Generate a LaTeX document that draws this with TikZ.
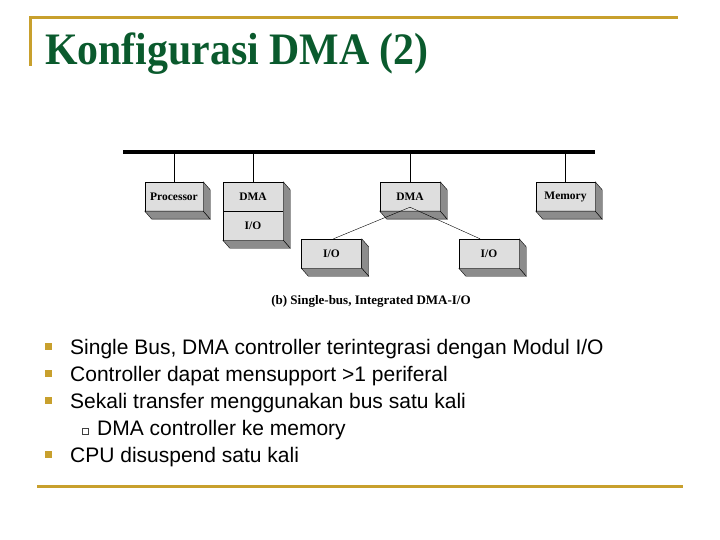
\documentclass[tikz,border=0pt]{standalone}
\usepackage{fontspec}
\setmainfont{Liberation Serif}
\newfontfamily\arialfont{Liberation Sans}
\definecolor{slidegold}{RGB}{200,160,45}
\definecolor{titlegreen}{RGB}{10,90,45}
\definecolor{boxgray}{RGB}{222,222,222}
\definecolor{sidegray}{RGB}{140,140,140}
\tikzset{
  modbox/.style={draw, fill=boxgray, minimum width=60, minimum height=29, inner sep=0pt,
    font=\bfseries\fontsize{11.5}{11.5}\selectfont},
  bullettext/.style={anchor=base west, inner sep=0pt, font=\arialfont\fontsize{21}{25}\selectfont}
}
% sisi samping dan bawah kotak 3D
\newcommand{\extrude}[2]{%
  \filldraw[fill=sidegray] (#1.north east) -- ++(7,8) -- ([shift={(7,8)}]#2.south east) -- (#2.south east) -- cycle;
  \filldraw[fill=sidegray] (#2.south west) -- ++(7,8) -- ([shift={(7,8)}]#2.south east) -- (#2.south east) -- cycle;
}
\begin{document}
\begin{tikzpicture}[x=1pt, y=-1pt]
  \useasboundingbox (0,0) rectangle (720,540);

  % garis hiasan slide
  \draw[slidegold, line width=3pt] (30,66) -- (30,18) -- (678,18);
  \draw[slidegold, line width=3pt] (37,486) -- (683,486);

  % judul
  \node[anchor=base west, inner sep=0pt, text=titlegreen, xscale=0.93,
        font=\bfseries\fontsize{45}{45}\selectfont] (title) at (45,65) {Konfigurasi DMA (2)};

  % bus tunggal
  \coordinate (busL) at (123,152);
  \coordinate (busR) at (595,152);
  \draw[line width=3.8pt] (busL) -- (busR);

  % modul-modul
  \node[modbox, minimum width=58] (proc) at (174,196.5) {Processor};
  \node[modbox] (dmaA) at (253,196.5) {DMA};
  \node[modbox] (ioA) at (253,225.5) {I/O};
  \node[modbox] (dmaB) at (410,196.5) {DMA};
  \node[modbox, minimum width=59] (mem) at (565.5,196.5) {Memory};
  \node[modbox] (ioL) at (331.5,253.5) {I/O};
  \node[modbox] (ioR) at (489,253.5) {I/O};

  \extrude{proc}{proc}
  \extrude{dmaA}{ioA}
  \extrude{dmaB}{dmaB}
  \extrude{mem}{mem}
  \extrude{ioL}{ioL}
  \extrude{ioR}{ioR}

  % sambungan ke bus
  \foreach \m in {proc, dmaA, dmaB, mem}
    \draw (\m.north |- busL) -- (\m.north);

  % DMA ke modul I/O
  \coordinate (fork) at ([yshift=4]dmaB.south);
  \draw (fork) -- ([xshift=2]ioL.north);
  \draw (fork) -- ([xshift=-9]ioR.north);

  % keterangan gambar
  \node[anchor=base, inner sep=0pt, font=\bfseries\fontsize{13}{13}\selectfont] (caption) at (371,304)
    {(b) Single-bus, Integrated DMA-I/O};

  % poin-poin
  \foreach \yy in {354,381,408,462}
    \fill[slidegold] (45,\yy-11) rectangle ++(6.5,6.5);
  \draw[darkgray, line width=0.6pt] (82.5,428) rectangle ++(6,6);

  \node[bullettext] (b1) at (70,354) {Single Bus, DMA controller terintegrasi dengan Modul I/O};
  \node[bullettext] (b2) at (70,381) {Controller dapat mensupport >1 periferal};
  \node[bullettext] (b3) at (70,408) {Sekali transfer menggunakan bus satu kali};
  \node[bullettext] (b3a) at (97,435) {DMA controller ke memory};
  \node[bullettext] (b4) at (70,462) {CPU disuspend satu kali};
\end{tikzpicture}
\end{document}
